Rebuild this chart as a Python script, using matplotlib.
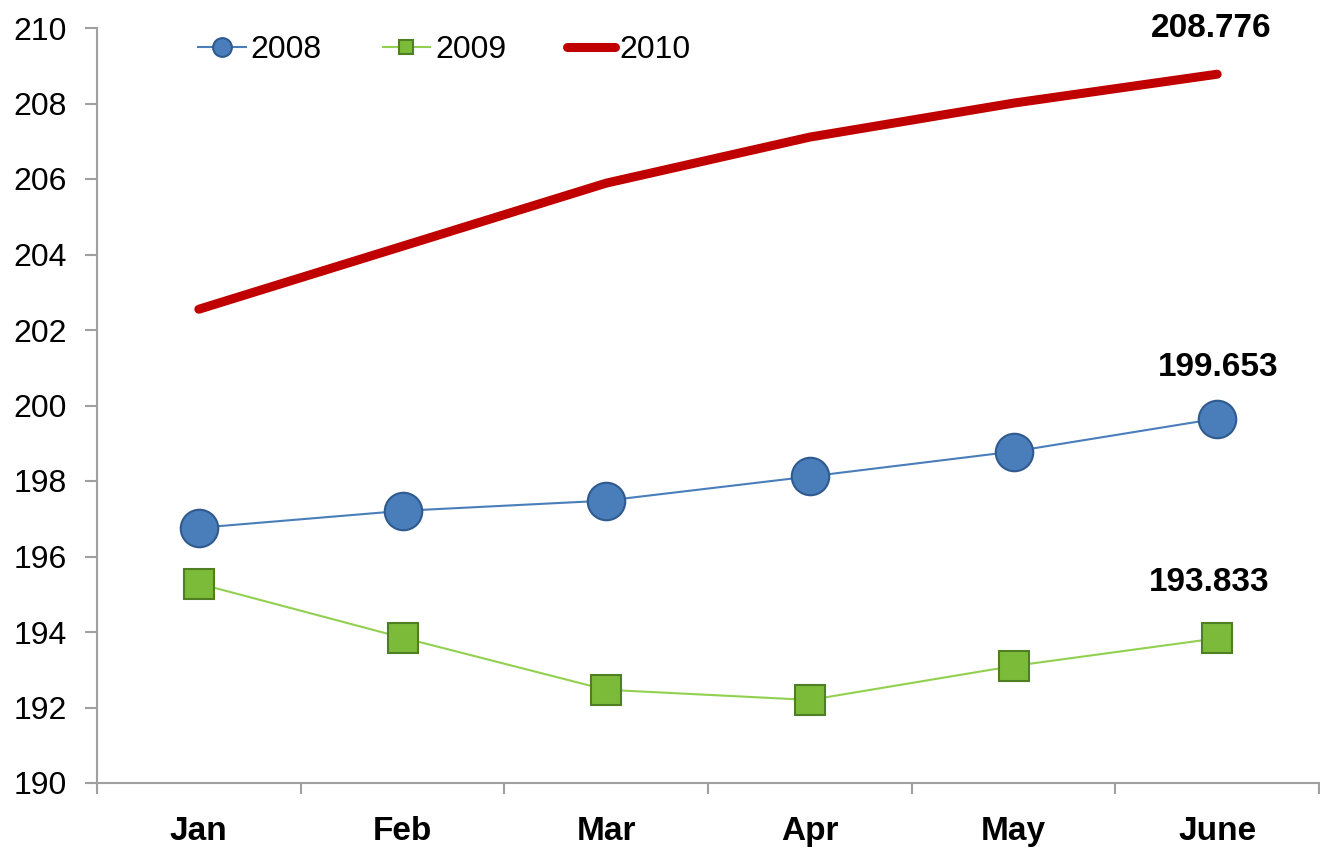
import matplotlib
matplotlib.use("Agg")
import matplotlib.pyplot as plt
import numpy as np

months = ["Jan", "Feb", "Mar", "Apr", "May", "June"]
s2008 = [196.76, 197.21, 197.48, 198.12, 198.78, 199.653]
s2009 = [195.28, 193.85, 192.47, 192.20, 193.10, 193.833]
s2010 = [202.55, 204.22, 205.89, 207.11, 208.01, 208.776]
yticks = [190, 192, 194, 196, 198, 200, 202, 204, 206, 208, 210]

plt.rcParams['font.family'] = ['Liberation Sans', 'DejaVu Sans']

fig = plt.figure(figsize=(13.2, 8.48), dpi=100)
ax = fig.add_axes([97 / 1320, 1 - 783 / 848, 1222 / 1320, 755 / 848])

x = np.arange(len(months))
ax.plot(x, s2010, color='#c00000', lw=6.5, solid_capstyle='round', label='2010', zorder=2)
ax.plot(x, s2008, color='#4a7ebb', lw=1.5, marker='o', ms=27, mfc='#4a7ebb',
        mec='#2f5a8f', mew=1.5, label='2008', zorder=3)
ax.plot(x, s2009, color='#92d050', lw=1.5, marker='s', ms=21, mfc='#7cbb3a',
        mec='#4f7f22', mew=1.5, label='2009', zorder=3)

# end labels
ax.annotate(f"{s2010[-1]:.3f}", (x[-1], s2010[-1]), xytext=(-4, 33), textcoords='offset points',
            ha='center', va='center', fontsize=24, fontweight='bold')
ax.annotate(f"{s2008[-1]:.3f}", (x[-1], s2008[-1]), xytext=(1, 37), textcoords='offset points',
            ha='center', va='center', fontsize=24, fontweight='bold')
ax.annotate(f"{s2009[-1]:.3f}", (x[-1], s2009[-1]), xytext=(-6, 40), textcoords='offset points',
            ha='center', va='center', fontsize=24, fontweight='bold')

ax.set_xlim(-0.5, len(months) - 0.5)
ax.set_ylim(190, 210)
ax.set_yticks(yticks)
ax.tick_params(axis='y', labelsize=23, length=8.5, color='#a0a0a0', width=1.5, pad=13)

ax.set_xticks(np.arange(len(months) + 1) - 0.5)
ax.set_xticklabels([])
ax.tick_params(axis='x', which='major', length=8, color='#a0a0a0', width=1.5)
ax.set_xticks(x, minor=True)
ax.set_xticklabels(months, minor=True, fontsize=24, fontweight='bold')
ax.tick_params(axis='x', which='minor', length=0, pad=24)

for s in ['top', 'right']:
    ax.spines[s].set_visible(False)
for s in ['left', 'bottom']:
    ax.spines[s].set_color('#a0a0a0')
    ax.spines[s].set_linewidth(1.5)

handles, labels = ax.get_legend_handles_labels()
order = [labels.index('2008'), labels.index('2009'), labels.index('2010')]
leg = ax.legend([handles[i] for i in order], [labels[i] for i in order],
                loc='center left', bbox_to_anchor=(198 / 1320, 1 - 50 / 848),
                bbox_transform=fig.transFigure, ncol=3, frameon=False,
                fontsize=23, handlelength=1.5, handletextpad=0.15, columnspacing=1.9,
                markerscale=0.5, borderpad=0, borderaxespad=0)

fig.savefig("out.png", dpi=100)
